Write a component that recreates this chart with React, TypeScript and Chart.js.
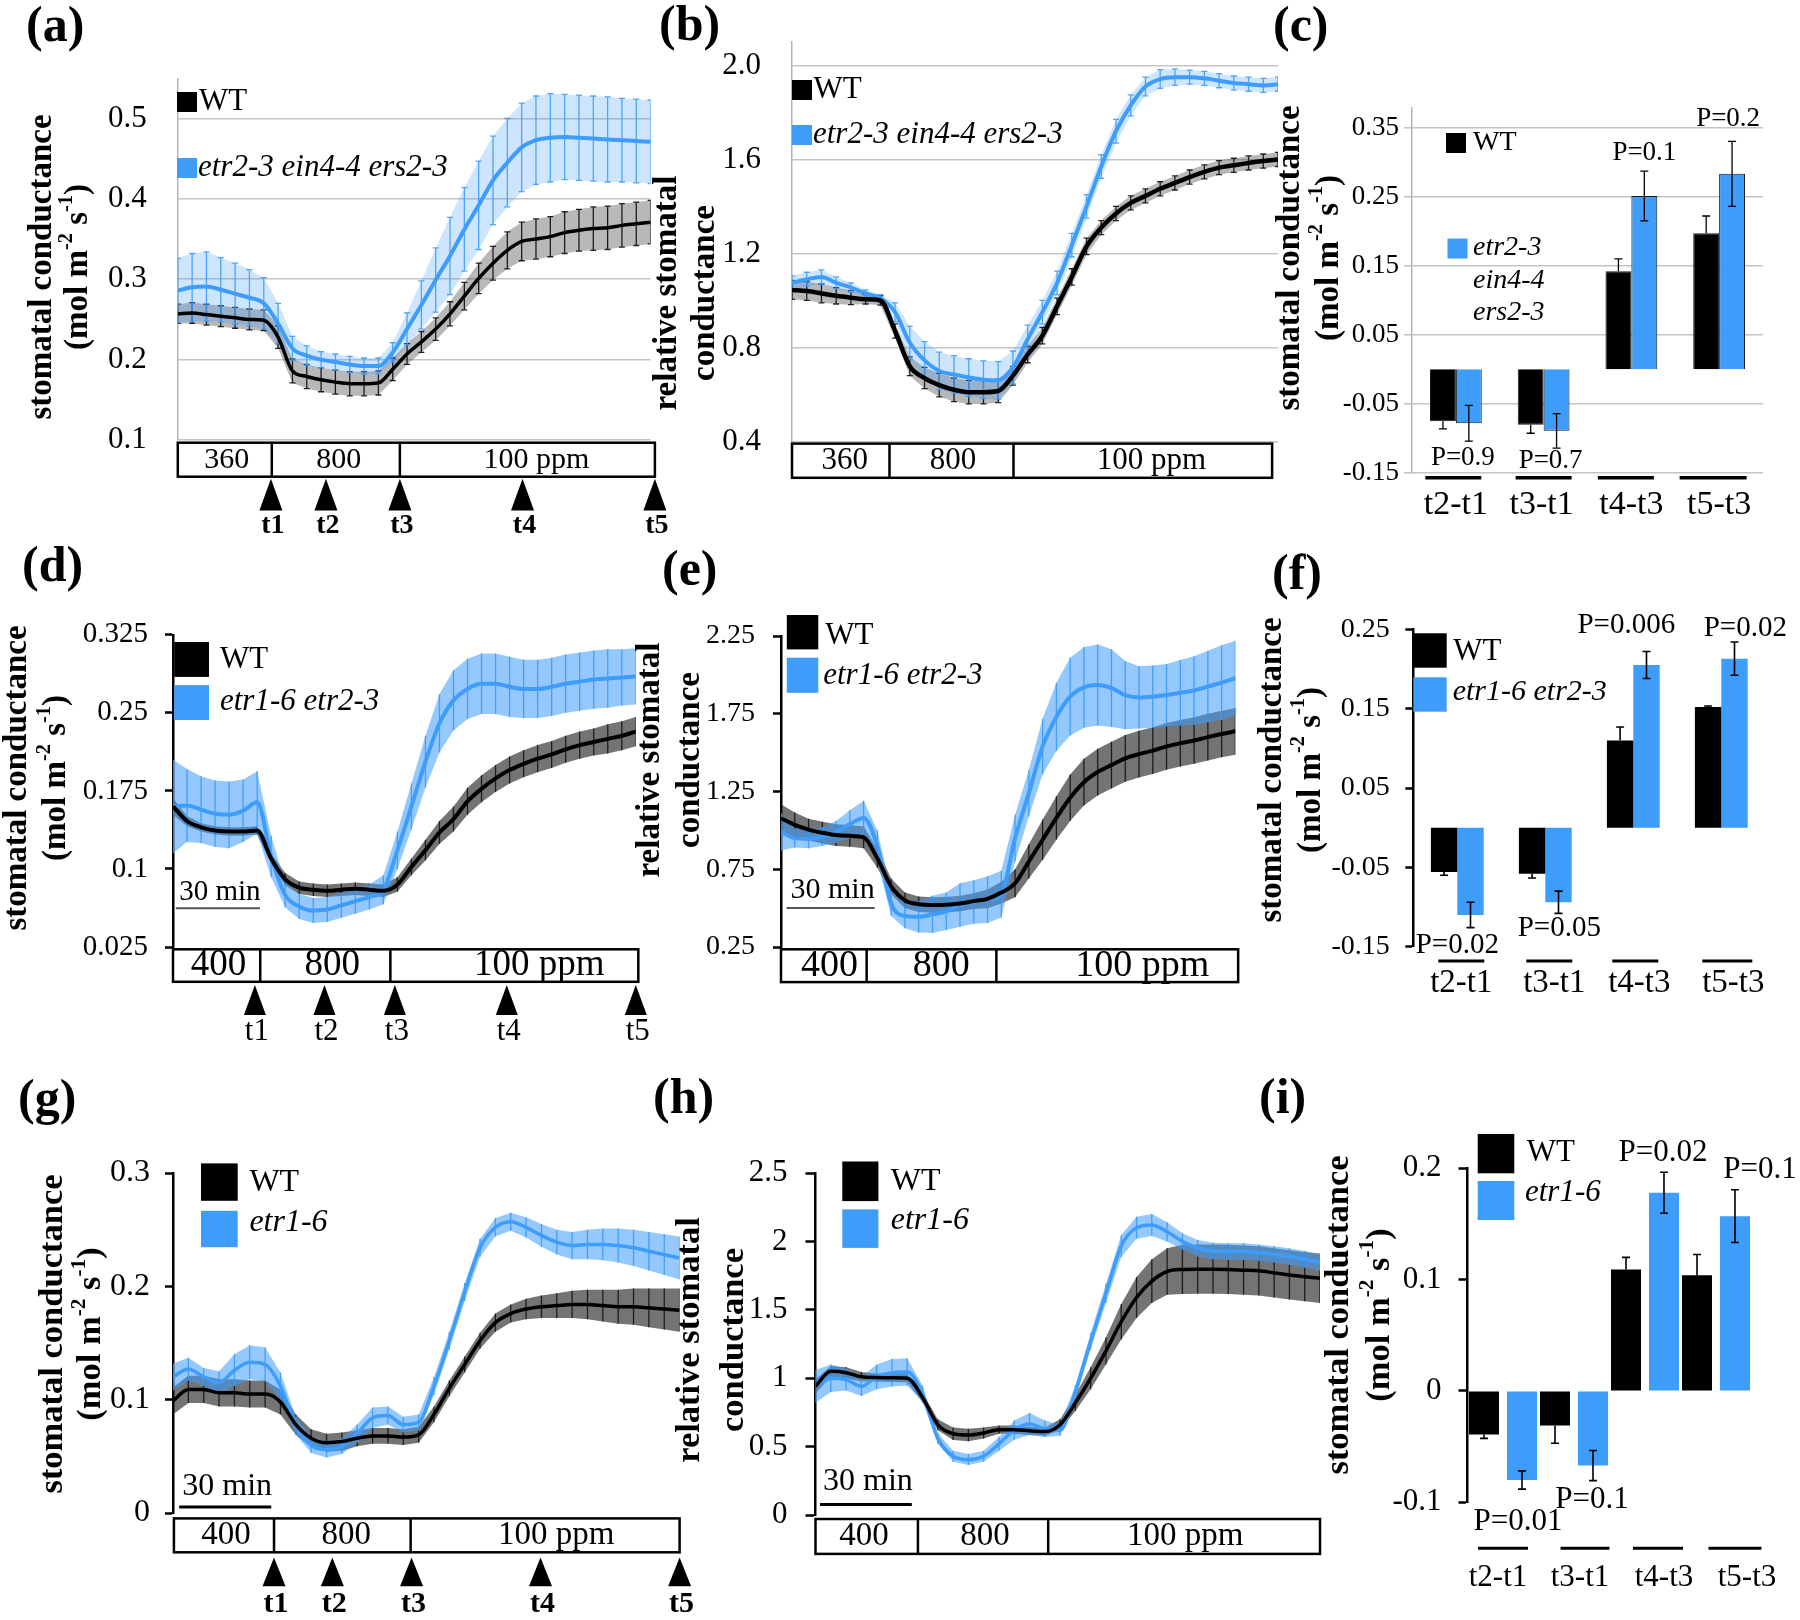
import React, { useEffect, useRef } from 'react';
import { Chart, registerables } from 'chart.js';

Chart.register(...registerables);

const SERIF = "'Liberation Serif', 'Times New Roman', Times, serif";
const BLUE = '#3e9cfb';
const BLACK = '#000000';
const Y_AXIS_W = 110;

// ---------------- data ----------------
const TIME_MIN = [0, 5, 10, 15, 20, 25, 30, 35, 40, 45, 50, 55, 60, 65, 70, 75, 80, 85, 90, 95, 100, 105, 110, 115, 120, 125, 130, 135, 140, 145, 150, 155, 160, 165];

const WT_LABEL = 'WT';
const MUT_ABC = 'etr2-3 ein4-4 ers2-3';
const MUT_ABC_LINES = ['etr2-3', 'ein4-4', 'ers2-3'];
const MUT_DEF = 'etr1-6 etr2-3';
const MUT_GHI = 'etr1-6';

const CO2_ROW1 = ['360', '800', '100 ppm'];
const CO2_ROW23 = ['400', '800', '100 ppm'];
const MARKER_LABELS = ['t1', 't2', 't3', 't4', 't5'];
const SCALE_BAR_LABEL = '30 min';
const BAR_CATEGORIES = ['t2-t1', 't3-t1', 't4-t3', 't5-t3'];

// (a) stomatal conductance, etr2-3 ein4-4 ers2-3
const A_WT = [0.257, 0.258, 0.256, 0.254, 0.252, 0.250, 0.249, 0.228, 0.186, 0.179, 0.175, 0.172, 0.170, 0.170, 0.171, 0.188, 0.207, 0.222, 0.238, 0.257, 0.279, 0.301, 0.320, 0.336, 0.347, 0.350, 0.353, 0.358, 0.361, 0.363, 0.364, 0.367, 0.369, 0.371];
const A_WT_ERR = [0.012, 0.013, 0.013, 0.013, 0.013, 0.013, 0.013, 0.014, 0.015, 0.015, 0.015, 0.015, 0.015, 0.015, 0.015, 0.014, 0.013, 0.013, 0.014, 0.015, 0.017, 0.019, 0.021, 0.023, 0.024, 0.025, 0.025, 0.026, 0.026, 0.027, 0.027, 0.027, 0.027, 0.027];
const A_MUT = [0.286, 0.290, 0.291, 0.287, 0.282, 0.277, 0.270, 0.245, 0.214, 0.205, 0.200, 0.197, 0.194, 0.192, 0.192, 0.209, 0.238, 0.268, 0.299, 0.329, 0.362, 0.392, 0.423, 0.445, 0.464, 0.473, 0.476, 0.477, 0.476, 0.475, 0.474, 0.473, 0.472, 0.471];
const A_MUT_ERR = [0.040, 0.042, 0.043, 0.040, 0.038, 0.035, 0.032, 0.025, 0.015, 0.012, 0.010, 0.010, 0.010, 0.010, 0.010, 0.012, 0.020, 0.030, 0.040, 0.048, 0.052, 0.055, 0.055, 0.055, 0.055, 0.055, 0.055, 0.053, 0.053, 0.053, 0.053, 0.052, 0.052, 0.052];
const A_TICKS = [0.1, 0.2, 0.3, 0.4, 0.5];
const A_TICK_LABELS = ['0.1', '0.2', '0.3', '0.4', '0.5'];
const A_CO2_BOUNDS = [0, 32.8, 77.5, 166.5];
const A_MARKERS = [32.5, 51.7, 77.5, 120.3, 166.5];

// (b) relative stomatal conductance
const B_WT = [1.045, 1.040, 1.030, 1.020, 1.012, 1.005, 1.000, 0.870, 0.720, 0.670, 0.640, 0.620, 0.610, 0.610, 0.615, 0.680, 0.770, 0.850, 0.975, 1.100, 1.230, 1.310, 1.370, 1.415, 1.445, 1.475, 1.500, 1.525, 1.547, 1.565, 1.575, 1.585, 1.593, 1.600];
const B_WT_ERR = [0.040, 0.040, 0.040, 0.035, 0.030, 0.020, 0.020, 0.030, 0.040, 0.045, 0.050, 0.050, 0.050, 0.050, 0.050, 0.040, 0.035, 0.035, 0.035, 0.035, 0.035, 0.030, 0.030, 0.030, 0.030, 0.030, 0.030, 0.030, 0.030, 0.030, 0.030, 0.030, 0.030, 0.030];
const B_MUT = [1.075, 1.090, 1.100, 1.075, 1.055, 1.030, 1.010, 0.950, 0.820, 0.745, 0.700, 0.685, 0.672, 0.663, 0.660, 0.715, 0.835, 0.950, 1.075, 1.235, 1.400, 1.570, 1.720, 1.830, 1.910, 1.942, 1.950, 1.950, 1.945, 1.935, 1.925, 1.920, 1.915, 1.920];
const B_MUT_ERR = [0.030, 0.030, 0.030, 0.025, 0.020, 0.015, 0.015, 0.040, 0.070, 0.080, 0.080, 0.080, 0.080, 0.080, 0.080, 0.070, 0.060, 0.050, 0.050, 0.050, 0.050, 0.050, 0.050, 0.045, 0.040, 0.040, 0.035, 0.030, 0.030, 0.030, 0.030, 0.030, 0.030, 0.030];
const B_TICKS = [0.4, 0.8, 1.2, 1.6, 2.0];
const B_TICK_LABELS = ['0.4', '0.8', '1.2', '1.6', '2.0'];
const B_CO2_BOUNDS = [0, 33.1, 75.2, 163];

// (c) bar differences
const C_WT = [-0.075, -0.080, 0.142, 0.197];
const C_WT_ERR = [0.011, 0.0125, 0.018, 0.025];
const C_MUT = [-0.078, -0.089, 0.251, 0.283];
const C_MUT_ERR = [0.026, 0.025, 0.036, 0.047];
const C_P = ['P=0.9', 'P=0.7', 'P=0.1', 'P=0.2'];
const C_TICKS = [-0.15, -0.05, 0.05, 0.15, 0.25, 0.35];
const C_TICK_LABELS = ['-0.15', '-0.05', '0.05', '0.15', '0.25', '0.35'];

// (d) stomatal conductance, etr1-6 etr2-3
const D_WT = [0.160, 0.146, 0.140, 0.137, 0.136, 0.136, 0.137, 0.110, 0.090, 0.082, 0.080, 0.079, 0.080, 0.081, 0.080, 0.079, 0.085, 0.102, 0.118, 0.135, 0.148, 0.165, 0.177, 0.187, 0.195, 0.201, 0.206, 0.210, 0.215, 0.219, 0.222, 0.225, 0.228, 0.232];
const D_WT_ERR = [0.008, 0.005, 0.004, 0.004, 0.004, 0.004, 0.004, 0.005, 0.006, 0.006, 0.006, 0.006, 0.006, 0.006, 0.006, 0.006, 0.007, 0.008, 0.010, 0.011, 0.012, 0.013, 0.013, 0.013, 0.013, 0.013, 0.013, 0.013, 0.013, 0.013, 0.013, 0.014, 0.014, 0.014];
const D_MUT = [0.160, 0.161, 0.157, 0.153, 0.152, 0.156, 0.164, 0.112, 0.075, 0.064, 0.060, 0.061, 0.065, 0.069, 0.073, 0.080, 0.118, 0.160, 0.203, 0.240, 0.262, 0.273, 0.278, 0.278, 0.275, 0.273, 0.273, 0.275, 0.278, 0.280, 0.282, 0.283, 0.284, 0.285];
const D_MUT_ERR = [0.045, 0.035, 0.032, 0.032, 0.032, 0.030, 0.030, 0.020, 0.012, 0.012, 0.012, 0.012, 0.012, 0.012, 0.012, 0.014, 0.018, 0.022, 0.025, 0.028, 0.029, 0.029, 0.029, 0.029, 0.029, 0.028, 0.028, 0.028, 0.028, 0.028, 0.028, 0.028, 0.027, 0.027];
const D_TICKS = [0.025, 0.1, 0.175, 0.25, 0.325];
const D_TICK_LABELS = ['0.025', '0.1', '0.175', '0.25', '0.325'];
const D_CO2_BOUNDS = [0, 31.1, 77.5, 165.9];
const D_MARKERS = [29.2, 54, 79.1, 119, 165];
const D_SCALE_BAR = [1, 31];

// (e) relative stomatal conductance, etr1-6 etr2-3
const E_WT = [1.078, 1.035, 1.005, 0.985, 0.970, 0.965, 0.955, 0.820, 0.640, 0.550, 0.525, 0.520, 0.522, 0.530, 0.545, 0.560, 0.600, 0.660, 0.800, 0.940, 1.080, 1.210, 1.310, 1.375, 1.420, 1.463, 1.490, 1.513, 1.540, 1.560, 1.578, 1.600, 1.620, 1.637];
const E_WT_ERR = [0.09, 0.08, 0.07, 0.07, 0.07, 0.07, 0.07, 0.06, 0.05, 0.05, 0.05, 0.05, 0.05, 0.05, 0.05, 0.06, 0.07, 0.09, 0.11, 0.13, 0.14, 0.15, 0.15, 0.15, 0.15, 0.15, 0.15, 0.15, 0.15, 0.15, 0.15, 0.15, 0.15, 0.15];
const E_MUT = [0.990, 0.950, 0.945, 0.960, 0.990, 1.040, 1.080, 0.900, 0.530, 0.450, 0.444, 0.460, 0.480, 0.520, 0.540, 0.555, 0.590, 0.950, 1.240, 1.540, 1.730, 1.860, 1.920, 1.935, 1.915, 1.870, 1.855, 1.860, 1.870, 1.885, 1.900, 1.925, 1.950, 1.980];
const E_MUT_ERR = [0.12, 0.06, 0.06, 0.06, 0.07, 0.09, 0.11, 0.10, 0.08, 0.08, 0.10, 0.12, 0.12, 0.14, 0.14, 0.15, 0.15, 0.15, 0.15, 0.18, 0.22, 0.25, 0.26, 0.26, 0.25, 0.22, 0.20, 0.20, 0.20, 0.21, 0.22, 0.23, 0.24, 0.24];
const E_TICKS = [0.25, 0.75, 1.25, 1.75, 2.25];
const E_TICK_LABELS = ['0.25', '0.75', '1.25', '1.75', '2.25'];
const E_CO2_BOUNDS = [0, 31.1, 78.2, 166];
const E_SCALE_BAR = [2, 34];

// (f) bar differences
const F_WT = [-0.056, -0.058, 0.110, 0.152];
const F_WT_ERR = [0.004, 0.0055, 0.0168, 0.0013];
const F_MUT = [-0.110, -0.094, 0.205, 0.213];
const F_MUT_ERR = [0.016, 0.014, 0.017, 0.021];
const F_P = ['P=0.02', 'P=0.05', 'P=0.006', 'P=0.02'];
const F_TICKS = [-0.15, -0.05, 0.05, 0.15, 0.25];
const F_TICK_LABELS = ['-0.15', '-0.05', '0.05', '0.15', '0.25'];

// (g) stomatal conductance, etr1-6
const G_WT = [0.099, 0.109, 0.109, 0.106, 0.106, 0.105, 0.105, 0.098, 0.078, 0.066, 0.062, 0.063, 0.066, 0.068, 0.068, 0.067, 0.069, 0.087, 0.110, 0.131, 0.152, 0.168, 0.176, 0.180, 0.182, 0.183, 0.184, 0.184, 0.183, 0.182, 0.182, 0.181, 0.180, 0.179];
const G_WT_ERR = [0.012, 0.012, 0.012, 0.012, 0.012, 0.012, 0.012, 0.011, 0.009, 0.008, 0.008, 0.008, 0.007, 0.007, 0.007, 0.007, 0.007, 0.007, 0.007, 0.007, 0.007, 0.008, 0.008, 0.009, 0.010, 0.011, 0.012, 0.013, 0.014, 0.015, 0.016, 0.017, 0.018, 0.019];
const G_MUT = [0.120, 0.127, 0.120, 0.115, 0.126, 0.133, 0.131, 0.112, 0.077, 0.060, 0.056, 0.059, 0.070, 0.084, 0.086, 0.078, 0.080, 0.112, 0.152, 0.195, 0.234, 0.252, 0.257, 0.252, 0.245, 0.239, 0.236, 0.237, 0.237, 0.236, 0.234, 0.231, 0.228, 0.225];
const G_MUT_ERR = [0.012, 0.010, 0.008, 0.010, 0.014, 0.015, 0.015, 0.012, 0.008, 0.007, 0.007, 0.007, 0.008, 0.009, 0.008, 0.007, 0.007, 0.008, 0.008, 0.008, 0.008, 0.008, 0.008, 0.009, 0.010, 0.011, 0.012, 0.013, 0.014, 0.015, 0.016, 0.017, 0.018, 0.019];
const G_TICKS = [0, 0.1, 0.2, 0.3];
const G_TICK_LABELS = ['0', '0.1', '0.2', '0.3'];
const G_CO2_BOUNDS = [0.3, 32.9, 77.4, 165];
const G_MARKERS = [32.9, 51.9, 77.7, 119.7, 165];
const G_SCALE_BAR = [2, 32];

// (h) relative stomatal conductance, etr1-6
const H_WT = [0.940, 1.050, 1.040, 1.010, 1.005, 1.003, 1.000, 0.860, 0.660, 0.594, 0.585, 0.600, 0.624, 0.624, 0.615, 0.610, 0.660, 0.820, 1.000, 1.200, 1.413, 1.590, 1.710, 1.780, 1.795, 1.797, 1.797, 1.795, 1.790, 1.785, 1.770, 1.755, 1.742, 1.730];
const H_WT_ERR = [0.05, 0.04, 0.04, 0.035, 0.03, 0.03, 0.03, 0.035, 0.04, 0.045, 0.045, 0.04, 0.03, 0.03, 0.03, 0.03, 0.04, 0.06, 0.08, 0.10, 0.13, 0.15, 0.16, 0.17, 0.18, 0.18, 0.18, 0.18, 0.18, 0.18, 0.18, 0.18, 0.18, 0.18];
const H_MUT = [0.940, 1.000, 0.990, 0.940, 1.010, 1.040, 1.045, 0.887, 0.560, 0.430, 0.405, 0.430, 0.520, 0.620, 0.665, 0.630, 0.620, 0.900, 1.270, 1.620, 1.966, 2.100, 2.120, 2.070, 2.000, 1.950, 1.930, 1.926, 1.926, 1.918, 1.905, 1.890, 1.870, 1.847];
const H_MUT_ERR = [0.12, 0.10, 0.08, 0.07, 0.09, 0.10, 0.10, 0.06, 0.04, 0.04, 0.04, 0.04, 0.05, 0.07, 0.08, 0.06, 0.04, 0.05, 0.06, 0.07, 0.08, 0.08, 0.08, 0.07, 0.06, 0.06, 0.06, 0.06, 0.06, 0.06, 0.06, 0.06, 0.06, 0.06];
const H_TICKS = [0, 0.5, 1, 1.5, 2, 2.5];
const H_TICK_LABELS = ['0', '0.5', '1', '1.5', '2', '2.5'];
const H_CO2_BOUNDS = [0, 33.5, 76.1, 165];
const H_SCALE_BAR = [1.5, 31.5];

// (i) bar differences
const I_WT = [-0.039, -0.031, 0.109, 0.104];
const I_WT_ERR = [0.0036, 0.0159, 0.011, 0.0186];
const I_MUT = [-0.080, -0.067, 0.178, 0.157];
const I_MUT_ERR = [0.0082, 0.0135, 0.0184, 0.0237];
const I_P = ['P=0.01', 'P=0.1', 'P=0.02', 'P=0.1'];
const I_TICKS = [-0.1, 0, 0.1, 0.2];
const I_TICK_LABELS = ['-0.1', '0', '0.1', '0.2'];

// ---------------- titles ----------------
type Seg = { t: string; sup?: boolean };
const GS_TITLE: Seg[] = [{ t: 'stomatal conductance' }];
const UNIT_TITLE: Seg[] = [{ t: '(mol m' }, { t: '-2', sup: true }, { t: ' s' }, { t: '-1', sup: true }, { t: ')' }];
const REL1_TITLE: Seg[] = [{ t: 'relative stomatal' }];
const REL2_TITLE: Seg[] = [{ t: 'conductance' }];

// ---------------- layout (page coordinates) ----------------
const BAND_BLUE_LIGHT = 'rgba(62,156,251,0.26)';
const BAND_BLACK_LIGHT = 'rgba(20,20,20,0.30)';
const BAND_BLUE = 'rgba(62,156,251,0.55)';
const BAND_BLACK = 'rgba(30,30,30,0.62)';

const PANELS: any[] = [
  {
    id: 'a', kind: 'line',
    canvas: { x: 0, y: 55, w: 690, h: 500 },
    plot: { l: 177.8, t: 78.3, r: 650.6, b: 440 },
    y: { min: 0.1, max: 0.55, ticks: A_TICKS, labels: A_TICK_LABELS, font: 31, pad: 4, tickLen: 27, hideTicks: true, style: 'excel' },
    series: [
      { values: A_WT, err: A_WT_ERR, color: BLACK, width: 3.5, band: BAND_BLACK_LIGHT, errColor: 'rgba(0,0,0,0.85)' },
      { values: A_MUT, err: A_MUT_ERR, color: BLUE, width: 4, band: BAND_BLUE_LIGHT, errColor: 'rgba(62,156,251,0.9)' },
    ],
    cap: 3,
    legend: [
      { box: [177, 92, 20, 20], color: BLACK, lines: [WT_LABEL], tx: 199, ty: [101.7], italic: false, font: 31 },
      { box: [177, 158, 20, 20], color: BLUE, lines: [MUT_ABC], tx: 198, ty: [168.3], italic: true, font: 31 },
    ],
    title: { cy: 267, size: 33, lines: [{ cx: 42.7, segs: GS_TITLE }, { cx: 78.3, segs: UNIT_TITLE }] },
    box: { bounds: A_CO2_BOUNDS, labels: CO2_ROW1, top: 442.7, bottom: 476.7, font: 30, dx: [2, 3, 9] },
    markers: { values: A_MARKERS, labels: MARKER_LABELS, top: 478.8, bottom: 510.4, hw: 11.5, labelY: 526, font: 28, bold: true },
  },
  {
    id: 'b', kind: 'line',
    canvas: { x: 640, y: 10, w: 660, h: 490 },
    plot: { l: 792, t: 41.9, r: 1278, b: 441.5 },
    y: { min: 0.4, max: 2.1, ticks: B_TICKS, labels: B_TICK_LABELS, font: 31, pad: 4, tickLen: 27, hideTicks: true, style: 'excel' },
    series: [
      { values: B_WT, err: B_WT_ERR, color: BLACK, width: 4.5, band: BAND_BLACK_LIGHT, errColor: 'rgba(0,0,0,0.85)' },
      { values: B_MUT, err: B_MUT_ERR, color: BLUE, width: 4, band: BAND_BLUE_LIGHT, errColor: 'rgba(62,156,251,0.9)' },
    ],
    cap: 3,
    legend: [
      { box: [792, 80, 20, 20], color: BLACK, lines: [WT_LABEL], tx: 813.6, ty: [89.8], italic: false, font: 31 },
      { box: [792, 125, 20, 20], color: BLUE, lines: [MUT_ABC], tx: 813, ty: [134.6], italic: true, font: 31 },
    ],
    title: { cy: 293, size: 33, lines: [{ cx: 667, segs: REL1_TITLE }, { cx: 705, segs: REL2_TITLE }] },
    box: { bounds: B_CO2_BOUNDS, labels: CO2_ROW1, top: 443.6, bottom: 477.8, font: 31, dx: [4, 1.5, 8.6] },
  },
  {
    id: 'c', kind: 'bar',
    canvas: { x: 1250, y: 60, w: 550, h: 480 },
    plot: { l: 1412, t: 108.2, r: 1763, b: 473 },
    y: { min: -0.15, max: 0.378, ticks: C_TICKS, labels: C_TICK_LABELS, font: 27, pad: 5, tickLen: 8, style: 'excel' },
    wt: C_WT, wtErr: C_WT_ERR, mut: C_MUT, mutErr: C_MUT_ERR,
    catPct: 0.59, barPct: 1.0, border: '#1a1a1a', borderW: 1, cap: 4, errW: 1.3,
    legend: [
      { box: [1446, 133, 20, 20], color: BLACK, lines: [WT_LABEL], tx: 1473, ty: [143], italic: false, font: 28 },
      { box: [1447.5, 238.5, 20, 20], color: BLUE, lines: MUT_ABC_LINES, tx: 1473, ty: [247.3, 280.6, 312.2], italic: true, font: 28 },
    ],
    title: { cy: 258, size: 33, lines: [{ cx: 1290.3, segs: GS_TITLE }, { cx: 1329, segs: UNIT_TITLE }] },
    p: { labels: C_P, y: [-0.128, -0.133, 0.313, 0.362], dx: [7, 7, 13, 9], font: 27 },
    ul: { y: 477.8, dx: [-2.5, 0, -5.5, -6], w: [56, 56, 56, 67], lw: 3.5 },
    cat: { y: 505, dx: [0, -2, 0, 0], font: 34 },
  },
  {
    id: 'd', kind: 'line',
    canvas: { x: 0, y: 590, w: 690, h: 460 },
    plot: { l: 173, t: 634.8, r: 635.8, b: 947 },
    y: { min: 0.025, max: 0.325, ticks: D_TICKS, labels: D_TICK_LABELS, font: 29, pad: 17, tickLen: 8, style: 'prism' },
    series: [
      { values: D_WT, err: D_WT_ERR, color: BLACK, width: 4, band: BAND_BLACK, errColor: 'rgba(0,0,0,0.75)' },
      { values: D_MUT, err: D_MUT_ERR, color: BLUE, width: 4, band: BAND_BLUE, errColor: 'rgba(62,156,251,0.95)' },
    ],
    cap: 0,
    legend: [
      { box: [174.2, 642, 34.8, 34.9], color: BLACK, lines: [WT_LABEL], tx: 220, ty: [660.3], italic: false, font: 31 },
      { box: [174.2, 685.2, 34.8, 34.8], color: BLUE, lines: [MUT_DEF], tx: 220, ty: [701.7], italic: true, font: 31 },
    ],
    title: { cy: 778, size: 33, lines: [{ cx: 17, segs: GS_TITLE }, { cx: 56.6, segs: UNIT_TITLE }] },
    box: { bounds: D_CO2_BOUNDS, labels: CO2_ROW23, top: 949.3, bottom: 981.8, font: 37, dx: [2, 7, 25] },
    markers: { values: D_MARKERS, labels: MARKER_LABELS, top: 985, bottom: 1015, hw: 11, labelY: 1031.5, font: 31, bold: false },
    scaleBar: { range: D_SCALE_BAR, y: 908.2, textY: 892.3, font: 29, color: '#555', width: 2 },
  },
  {
    id: 'e', kind: 'line',
    canvas: { x: 630, y: 590, w: 660, h: 420 },
    plot: { l: 781, t: 636, r: 1235.4, b: 947 },
    y: { min: 0.25, max: 2.25, ticks: E_TICKS, labels: E_TICK_LABELS, font: 28, pad: 18, tickLen: 8, style: 'prism' },
    series: [
      { values: E_WT, err: E_WT_ERR, color: BLACK, width: 4, band: BAND_BLACK, errColor: 'rgba(0,0,0,0.75)' },
      { values: E_MUT, err: E_MUT_ERR, color: BLUE, width: 4, band: BAND_BLUE, errColor: 'rgba(62,156,251,0.95)' },
    ],
    cap: 0,
    legend: [
      { box: [786.8, 615, 31.5, 34.4], color: BLACK, lines: [WT_LABEL], tx: 825.3, ty: [636], italic: false, font: 31 },
      { box: [786.8, 657.7, 31.5, 35.1], color: BLUE, lines: [MUT_DEF], tx: 823.2, ty: [676], italic: true, font: 31 },
    ],
    title: { cy: 760, size: 33, lines: [{ cx: 650, segs: REL1_TITLE }, { cx: 690.7, segs: REL2_TITLE }] },
    box: { bounds: E_CO2_BOUNDS, labels: CO2_ROW23, top: 949.3, bottom: 982.1, font: 38, dx: [5.6, 9.7, 25] },
    scaleBar: { range: E_SCALE_BAR, y: 907.9, textY: 890, font: 30, color: '#555', width: 2 },
  },
  {
    id: 'f', kind: 'bar',
    canvas: { x: 1250, y: 590, w: 550, h: 430 },
    plot: { l: 1413.3, t: 629.3, r: 1765.3, b: 946.7 },
    y: { min: -0.15, max: 0.25, ticks: F_TICKS, labels: F_TICK_LABELS, font: 28, pad: 15.6, tickLen: 8, style: 'prism' },
    wt: F_WT, wtErr: F_WT_ERR, mut: F_MUT, mutErr: F_MUT_ERR,
    catPct: 0.6, barPct: 1.0, border: 'rgba(0,0,0,0)', borderW: 0, cap: 4, errW: 1.6,
    legend: [
      { box: [1413.3, 633.3, 33.4, 34.4], color: BLACK, lines: [WT_LABEL], tx: 1453.3, ty: [651.7], italic: false, font: 31 },
      { box: [1413.3, 677.3, 33.4, 34.4], color: BLUE, lines: [MUT_DEF], tx: 1452.7, ty: [691.7], italic: true, font: 30 },
    ],
    title: { cy: 770, size: 33, lines: [{ cx: 1272, segs: GS_TITLE }, { cx: 1311, segs: UNIT_TITLE }] },
    p: { labels: F_P, y: [-0.148, -0.127, 0.255, 0.251], dx: [0, 14, -7, 24], font: 29 },
    ul: { y: 961, dx: [4, 4, 2, 6], w: [46, 46, 46, 50], lw: 3 },
    cat: { y: 983.3, dx: [4, 9, 6, 12], font: 33 },
  },
  {
    id: 'g', kind: 'line',
    canvas: { x: 0, y: 1130, w: 700, h: 490 },
    plot: { l: 173, t: 1173, r: 679.6, b: 1513 },
    y: { min: 0, max: 0.3, ticks: G_TICKS, labels: G_TICK_LABELS, font: 32, pad: 15, tickLen: 8, style: 'prism' },
    series: [
      { values: G_WT, err: G_WT_ERR, color: BLACK, width: 3.5, band: BAND_BLACK, errColor: 'rgba(0,0,0,0.75)' },
      { values: G_MUT, err: G_MUT_ERR, color: BLUE, width: 3.5, band: BAND_BLUE, errColor: 'rgba(62,156,251,0.95)' },
    ],
    cap: 0,
    legend: [
      { box: [201, 1163.4, 36.7, 37.4], color: BLACK, lines: [WT_LABEL], tx: 249.4, ty: [1183], italic: false, font: 32 },
      { box: [201, 1210.8, 36.7, 36.4], color: BLUE, lines: [MUT_GHI], tx: 249.4, ty: [1223], italic: true, font: 32 },
    ],
    title: { cy: 1334, size: 34.5, lines: [{ cx: 53.5, segs: GS_TITLE }, { cx: 91.5, segs: UNIT_TITLE }] },
    box: { bounds: G_CO2_BOUNDS, labels: CO2_ROW23, top: 1518.4, bottom: 1552.3, font: 33, dx: [2, 4, 11] },
    markers: { values: G_MARKERS, labels: MARKER_LABELS, top: 1557.6, bottom: 1586.2, hw: 11.5, labelY: 1604, font: 30, bold: true },
    scaleBar: { range: G_SCALE_BAR, y: 1507, textY: 1486.3, font: 32, color: '#000', width: 3 },
  },
  {
    id: 'h', kind: 'line',
    canvas: { x: 630, y: 1130, w: 700, h: 460 },
    plot: { l: 815.5, t: 1173, r: 1320, b: 1515 },
    y: { min: 0, max: 2.5, ticks: H_TICKS, labels: H_TICK_LABELS, font: 31, pad: 18, tickLen: 10, style: 'prism' },
    series: [
      { values: H_WT, err: H_WT_ERR, color: BLACK, width: 3.5, band: BAND_BLACK, errColor: 'rgba(0,0,0,0.75)' },
      { values: H_MUT, err: H_MUT_ERR, color: BLUE, width: 3.5, band: BAND_BLUE, errColor: 'rgba(62,156,251,0.95)' },
    ],
    cap: 0,
    legend: [
      { box: [842.3, 1161.5, 36.1, 39.6], color: BLACK, lines: [WT_LABEL], tx: 890.7, ty: [1181.3], italic: false, font: 32 },
      { box: [842.3, 1209.4, 36.1, 38.5], color: BLUE, lines: [MUT_GHI], tx: 890.7, ty: [1220.9], italic: true, font: 32 },
    ],
    title: { cy: 1340, size: 34.5, lines: [{ cx: 690.4, segs: REL1_TITLE }, { cx: 734.4, segs: REL2_TITLE }] },
    box: { bounds: H_CO2_BOUNDS, labels: CO2_ROW23, top: 1519, bottom: 1553.9, font: 33, dx: [-2.6, 2, 1] },
    scaleBar: { range: H_SCALE_BAR, y: 1504.6, textY: 1481.9, font: 32, color: '#000', width: 3 },
  },
  {
    id: 'i', kind: 'bar',
    canvas: { x: 1250, y: 1110, w: 550, h: 510 },
    plot: { l: 1467.5, t: 1168.3, r: 1751.5, b: 1502.3 },
    y: { min: -0.1, max: 0.2, ticks: I_TICKS, labels: I_TICK_LABELS, font: 31, pad: 17, tickLen: 9, style: 'prism' },
    wt: I_WT, wtErr: I_WT_ERR, mut: I_MUT, mutErr: I_MUT_ERR,
    catPct: 1.07, barPct: 0.79, border: 'rgba(0,0,0,0)', borderW: 0, cap: 4, errW: 1.6,
    legend: [
      { box: [1477.7, 1134, 36.6, 39.3], color: BLACK, lines: [WT_LABEL], tx: 1526.7, ty: [1153.3], italic: false, font: 31 },
      { box: [1477.7, 1181, 36.6, 39], color: BLUE, lines: [MUT_GHI], tx: 1525, ty: [1193.3], italic: true, font: 31 },
    ],
    title: { cy: 1315, size: 34.5, lines: [{ cx: 1339.3, segs: GS_TITLE }, { cx: 1380, segs: UNIT_TITLE }] },
    p: { labels: I_P, y: [-0.1174, -0.098, 0.2135, 0.1985], dx: [15, 18, 18, 44], font: 31 },
    ul: { y: 1548.3, dx: [0, 11, 13, 19], w: [50, 49, 50, 53], lw: 3 },
    cat: { y: 1578.3, dx: [-5, 6, 19, 31], font: 31 },
  },
];

const LETTERS = [
  { t: '(a)', x: 26, y: -1 }, { t: '(b)', x: 659, y: -2 }, { t: '(c)', x: 1273, y: -1 },
  { t: '(d)', x: 22, y: 539 }, { t: '(e)', x: 662, y: 543 }, { t: '(f)', x: 1272, y: 547 },
  { t: '(g)', x: 18, y: 1072 }, { t: '(h)', x: 653, y: 1071 }, { t: '(i)', x: 1259, y: 1071 },
];

// ---------------- drawing helpers ----------------
function setFont(ctx: CanvasRenderingContext2D, size: number, bold = false, italic = false) {
  ctx.font = `${italic ? 'italic ' : ''}${bold ? 'bold ' : ''}${size}px ${SERIF}`;
}

function text(ctx: CanvasRenderingContext2D, s: string, x: number, y: number, size: number, align: CanvasTextAlign = 'left', bold = false, italic = false) {
  setFont(ctx, size, bold, italic);
  ctx.fillStyle = '#000';
  ctx.textAlign = align;
  ctx.textBaseline = 'middle';
  ctx.fillText(s, x, y);
}

function drawRich(ctx: CanvasRenderingContext2D, segs: Seg[], cx: number, cy: number, size: number) {
  ctx.save();
  ctx.translate(cx, cy);
  ctx.rotate(-Math.PI / 2);
  ctx.fillStyle = '#000';
  ctx.textBaseline = 'middle';
  ctx.textAlign = 'left';
  const f = (sup?: boolean) => `bold ${sup ? size * 0.62 : size}px ${SERIF}`;
  let total = 0;
  for (const s of segs) { ctx.font = f(s.sup); total += ctx.measureText(s.t).width; }
  let x = -total / 2;
  for (const s of segs) {
    ctx.font = f(s.sup);
    ctx.fillText(s.t, x, s.sup ? -size * 0.36 : 0);
    x += ctx.measureText(s.t).width;
  }
  ctx.restore();
}

function drawCommon(ctx: CanvasRenderingContext2D, p: any) {
  const ox = p.canvas.x, oy = p.canvas.y;
  for (const it of p.legend) {
    ctx.fillStyle = it.color;
    ctx.fillRect(it.box[0] - ox, it.box[1] - oy, it.box[2], it.box[3]);
    it.lines.forEach((ln: string, k: number) => text(ctx, ln, it.tx - ox, it.ty[k] - oy, it.font, 'left', false, it.italic));
  }
  for (const ln of p.title.lines) drawRich(ctx, ln.segs, ln.cx - ox, p.title.cy - oy, p.title.size);
}

function makeLineDecor(p: any) {
  return {
    id: 'decor_' + p.id,
    beforeDatasetsDraw(chart: any) {
      const ctx: CanvasRenderingContext2D = chart.ctx;
      const xs = chart.scales.x, ys = chart.scales.y, ca = chart.chartArea;
      ctx.save();
      ctx.beginPath();
      ctx.rect(ca.left, ca.top, ca.right - ca.left, ca.bottom - ca.top);
      ctx.clip();
      for (const s of p.series) {
        const px = TIME_MIN.map((t) => xs.getPixelForValue(t));
        const up = s.values.map((v: number, i: number) => ys.getPixelForValue(v + s.err[i]));
        const lo = s.values.map((v: number, i: number) => ys.getPixelForValue(v - s.err[i]));
        ctx.beginPath();
        px.forEach((x, i) => (i === 0 ? ctx.moveTo(x, up[i]) : ctx.lineTo(x, up[i])));
        for (let i = px.length - 1; i >= 0; i--) ctx.lineTo(px[i], lo[i]);
        ctx.closePath();
        ctx.fillStyle = s.band;
        ctx.fill();
        ctx.strokeStyle = s.errColor;
        ctx.lineWidth = 1.3;
        ctx.beginPath();
        px.forEach((x, i) => {
          ctx.moveTo(x, up[i]); ctx.lineTo(x, lo[i]);
          if (p.cap > 0) {
            ctx.moveTo(x - p.cap, up[i]); ctx.lineTo(x + p.cap, up[i]);
            ctx.moveTo(x - p.cap, lo[i]); ctx.lineTo(x + p.cap, lo[i]);
          }
        });
        ctx.stroke();
      }
      ctx.restore();
    },
    afterDraw(chart: any) {
      const ctx: CanvasRenderingContext2D = chart.ctx;
      const xs = chart.scales.x;
      const oy = p.canvas.y;
      ctx.save();
      const bx = p.box.bounds.map((b: number) => xs.getPixelForValue(b));
      const bt = p.box.top - oy, bb = p.box.bottom - oy;
      ctx.strokeStyle = '#000';
      ctx.lineWidth = 2.5;
      ctx.strokeRect(bx[0], bt, bx[3] - bx[0], bb - bt);
      ctx.beginPath();
      ctx.moveTo(bx[1], bt); ctx.lineTo(bx[1], bb);
      ctx.moveTo(bx[2], bt); ctx.lineTo(bx[2], bb);
      ctx.stroke();
      for (let i = 0; i < 3; i++) {
        text(ctx, p.box.labels[i], (bx[i] + bx[i + 1]) / 2 + p.box.dx[i], (bt + bb) / 2, p.box.font, 'center');
      }
      if (p.markers) {
        const m = p.markers;
        m.values.forEach((v: number, i: number) => {
          const x = xs.getPixelForValue(v);
          ctx.fillStyle = '#000';
          ctx.beginPath();
          ctx.moveTo(x, m.top - oy);
          ctx.lineTo(x + m.hw, m.bottom - oy);
          ctx.lineTo(x - m.hw, m.bottom - oy);
          ctx.closePath();
          ctx.fill();
          text(ctx, m.labels[i], x + 2, m.labelY - oy, m.font, 'center', m.bold);
        });
      }
      if (p.scaleBar) {
        const sb = p.scaleBar;
        const x0 = xs.getPixelForValue(sb.range[0]);
        const x1 = xs.getPixelForValue(sb.range[1]);
        ctx.strokeStyle = sb.color;
        ctx.lineWidth = sb.width;
        ctx.beginPath();
        ctx.moveTo(x0, sb.y - oy); ctx.lineTo(x1, sb.y - oy);
        ctx.stroke();
        text(ctx, SCALE_BAR_LABEL, (x0 + x1) / 2 + 2, sb.textY - oy, sb.font, 'center');
      }
      drawCommon(ctx, p);
      ctx.restore();
    },
  };
}

function makeBarDecor(p: any) {
  return {
    id: 'decor_' + p.id,
    afterDatasetsDraw(chart: any) {
      const ctx: CanvasRenderingContext2D = chart.ctx;
      const ys = chart.scales.y;
      ctx.save();
      ctx.strokeStyle = '#000';
      ctx.lineWidth = p.errW;
      const sets = [{ v: p.wt, e: p.wtErr, both: false }, { v: p.mut, e: p.mutErr, both: true }];
      sets.forEach((s, di) => {
        const meta = chart.getDatasetMeta(di);
        s.v.forEach((val: number, i: number) => {
          const x = meta.data[i].x;
          const dir = val >= 0 ? 1 : -1;
          const yA = ys.getPixelForValue(s.both ? val - s.e[i] : val);
          const yB = ys.getPixelForValue(s.both ? val + s.e[i] : val + dir * s.e[i]);
          ctx.beginPath();
          ctx.moveTo(x, yA); ctx.lineTo(x, yB);
          ctx.moveTo(x - p.cap, yB); ctx.lineTo(x + p.cap, yB);
          if (s.both) { ctx.moveTo(x - p.cap, yA); ctx.lineTo(x + p.cap, yA); }
          ctx.stroke();
        });
      });
      ctx.restore();
    },
    afterDraw(chart: any) {
      const ctx: CanvasRenderingContext2D = chart.ctx;
      const xs = chart.scales.x, ys = chart.scales.y;
      const oy = p.canvas.y;
      ctx.save();
      BAR_CATEGORIES.forEach((c, i) => {
        const cx = xs.getPixelForValue(i);
        text(ctx, p.p.labels[i], cx + p.p.dx[i], ys.getPixelForValue(p.p.y[i]), p.p.font, 'center');
        ctx.strokeStyle = '#000';
        ctx.lineWidth = p.ul.lw;
        ctx.beginPath();
        const ux = cx + p.ul.dx[i];
        ctx.moveTo(ux - p.ul.w[i] / 2, p.ul.y - oy);
        ctx.lineTo(ux + p.ul.w[i] / 2, p.ul.y - oy);
        ctx.stroke();
        text(ctx, c, cx + p.cat.dx[i], p.cat.y - oy, p.cat.font, 'center');
      });
      drawCommon(ctx, p);
      ctx.restore();
    },
  };
}

function yScale(p: any) {
  const excel = p.y.style === 'excel';
  const tickColor = p.y.hideTicks ? 'rgba(0,0,0,0)' : excel ? '#c4c4c4' : '#000';
  return {
    type: 'linear',
    position: 'left',
    min: p.y.min,
    max: p.y.max,
    afterFit: (s: any) => { s.width = Y_AXIS_W; },
    afterBuildTicks: (s: any) => { s.ticks = p.y.ticks.map((v: number) => ({ value: v })); },
    ticks: {
      autoSkip: false,
      padding: p.y.pad,
      color: '#000',
      font: { family: SERIF, size: p.y.font },
      callback: (_v: any, i: number) => p.y.labels[i],
    },
    grid: excel
      ? { display: true, color: '#c4c4c4', lineWidth: 1.6, drawTicks: true, tickLength: p.y.tickLen, tickColor }
      : { display: true, drawOnChartArea: false, drawTicks: true, tickLength: p.y.tickLen, tickColor, tickWidth: 2.5 },
    border: excel ? { display: true, color: '#b4b4b4', width: 1.5 } : { display: true, color: '#000', width: 2.5 },
  };
}

function padding(p: any) {
  return {
    left: p.plot.l - p.canvas.x - Y_AXIS_W,
    top: p.plot.t - p.canvas.y,
    right: p.canvas.x + p.canvas.w - p.plot.r,
    bottom: p.canvas.y + p.canvas.h - p.plot.b,
  };
}

function buildConfig(p: any): any {
  const common = {
    responsive: false,
    animation: false,
    events: [],
    layout: { padding: padding(p) },
    plugins: { legend: { display: false }, tooltip: { enabled: false }, title: { display: false } },
  };
  if (p.kind === 'line') {
    return {
      type: 'line',
      data: {
        datasets: p.series.map((s: any, k: number) => ({
          label: k === 0 ? WT_LABEL : 'mutant',
          data: TIME_MIN.map((t, i) => ({ x: t, y: s.values[i] })),
          borderColor: s.color,
          borderWidth: s.width,
          pointRadius: 0,
          cubicInterpolationMode: 'monotone',
          fill: false,
        })),
      },
      options: {
        ...common,
        scales: { x: { type: 'linear', display: false, min: 0, max: 165 }, y: yScale(p) },
      },
      plugins: [makeLineDecor(p)],
    };
  }
  return {
    type: 'bar',
    data: {
      labels: BAR_CATEGORIES,
      datasets: [
        { label: WT_LABEL, data: p.wt, backgroundColor: BLACK, borderColor: p.border, borderWidth: p.borderW, categoryPercentage: p.catPct, barPercentage: p.barPct },
        { label: 'mutant', data: p.mut, backgroundColor: BLUE, borderColor: p.border, borderWidth: p.borderW, categoryPercentage: p.catPct, barPercentage: p.barPct },
      ],
    },
    options: {
      ...common,
      scales: { x: { type: 'category', display: false, offset: true }, y: yScale(p) },
    },
    plugins: [makeBarDecor(p)],
  };
}

function PanelCanvas({ p }: { p: any }) {
  const ref = useRef<HTMLCanvasElement | null>(null);
  useEffect(() => {
    if (!ref.current) return;
    const chart = new Chart(ref.current, buildConfig(p));
    return () => chart.destroy();
  }, [p]);
  return (
    <canvas
      ref={ref}
      width={p.canvas.w}
      height={p.canvas.h}
      style={{ position: 'absolute', left: p.canvas.x, top: p.canvas.y, width: p.canvas.w, height: p.canvas.h }}
    />
  );
}

export default function App() {
  return (
    <div style={{ position: 'absolute', left: 0, top: 0, width: 1800, height: 1620, background: '#fff', overflow: 'hidden' }}>
      {PANELS.map((p) => <PanelCanvas key={p.id} p={p} />)}
      {LETTERS.map((l) => (
        <div key={l.t} style={{ position: 'absolute', left: l.x, top: l.y, font: `bold 50px ${SERIF}`, lineHeight: '50px', color: '#000', whiteSpace: 'nowrap' }}>
          {l.t}
        </div>
      ))}
    </div>
  );
}
